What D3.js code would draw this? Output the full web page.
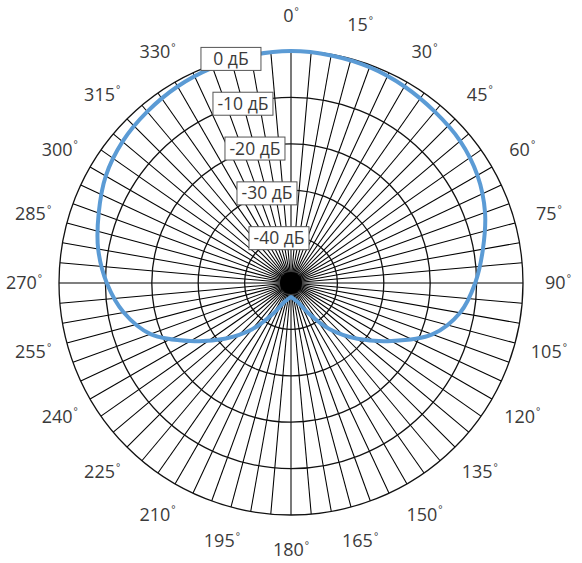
<!DOCTYPE html>
<html>
<head>
<meta charset="utf-8">
<script src="https://cdn.jsdelivr.net/npm/d3@7"></script>
<style>
  html, body { margin: 0; padding: 0; background: #fff; }
  svg { display: block; }
  text { font-family: "Open Sans", "Noto Sans", sans-serif; fill: #3a3a3a; }
</style>
</head>
<body>
<svg id="chart" width="582" height="563"></svg>
<script>
// Directional pattern: gain (dB) versus azimuth (degrees, clockwise from top)
const azimuthDeg = [0, 10, 20, 30, 40, 50, 60, 70, 80, 90,
                    100, 110, 120, 130, 140, 150, 160, 170, 180, 190,
                    200, 210, 220, 230, 240, 250, 260, 270, 280, 290,
                    300, 310, 320, 330, 340, 350];
const gainDb = [0, -0.2, -0.5, -1.1, -1.8, -2.4, -3.6, -5.5, -8.0, -10.3,
                -13.0, -17.6, -25.0, -31.3, -37, -42.5, -45.6, -46.5, -47, -46.5,
                -45.6, -42.5, -37, -31.3, -25.0, -17.8, -13.4, -10.3, -7.8, -5.9,
                -3.9, -2.6, -1.8, -1.1, -0.6, -0.2];

// Ring levels and their captions
const ringDb = [0, -10, -20, -30, -40];
const ringLabels = ["0 дБ", "-10 дБ", "-20 дБ", "-30 дБ", "-40 дБ"];

// Azimuth captions around the rim
const angleTicks = [0, 15, 30, 45, 60, 75, 90, 105, 120, 135, 150, 165,
                    180, 195, 210, 225, 240, 255, 270, 285, 300, 315, 330];

const cx = 291, cy = 283, R = 232;
const svg = d3.select("#chart");
const g = svg.append("g").attr("transform", `translate(${cx},${cy})`);

const r = d3.scaleLinear().domain([-50, 0]).range([0, R]);
const toRad = d => d * Math.PI / 180;

// spokes every 5 degrees
const spokes = d3.range(0, 360, 5);
g.append("g").selectAll("line").data(spokes).join("line")
  .attr("x1", 0).attr("y1", 0)
  .attr("x2", d => R * Math.sin(toRad(d)))
  .attr("y2", d => -R * Math.cos(toRad(d)))
  .attr("stroke", "#000")
  .attr("stroke-width", 1.05);

// dense hub where the spokes merge
g.append("circle").attr("r", 11).attr("fill", "#000");

// concentric rings
g.append("g").selectAll("circle").data(ringDb).join("circle")
  .attr("r", d => r(d))
  .attr("fill", "none")
  .attr("stroke", "#111")
  .attr("stroke-width", 1.3);

// pattern curve
const line = d3.lineRadial()
  .angle((d, i) => toRad(azimuthDeg[i]))
  .radius(d => r(d))
  .curve(d3.curveCatmullRomClosed.alpha(0.5));

g.append("path")
  .datum(gainDb)
  .attr("d", line)
  .attr("fill", "none")
  .attr("stroke", "#5b9bd5")
  .attr("stroke-width", 4)
  .attr("stroke-linejoin", "round");

// ring captions along the 345° radius, in fixed-size boxes
const capAngle = toRad(345);
const boxW = 60, boxH = 23;
const caps = g.append("g").selectAll("g").data(ringDb).join("g")
  .attr("transform", d => `translate(${r(d) * Math.sin(capAngle)},${-r(d) * Math.cos(capAngle)})`);
caps.append("rect")
  .attr("x", -boxW / 2).attr("y", -boxH / 2)
  .attr("width", boxW).attr("height", boxH)
  .attr("fill", "#fff")
  .attr("stroke", "#555")
  .attr("stroke-width", 1);
caps.append("text")
  .attr("text-anchor", "middle")
  .attr("dy", "0.35em")
  .attr("font-size", 17.5)
  .text((d, i) => ringLabels[i]);

// azimuth captions
const labR = 267;
const labs = g.append("g").selectAll("text").data(angleTicks).join("text")
  .attr("x", d => labR * Math.sin(toRad(d)))
  .attr("y", d => -labR * Math.cos(toRad(d)))
  .attr("text-anchor", "middle")
  .attr("dy", "0.35em")
  .attr("font-size", 18);
labs.append("tspan").text(d => d);
labs.append("tspan")
  .attr("font-size", 10)
  .attr("dy", "-0.75em")
  .attr("dx", 1)
  .text("°");
</script>
</body>
</html>
